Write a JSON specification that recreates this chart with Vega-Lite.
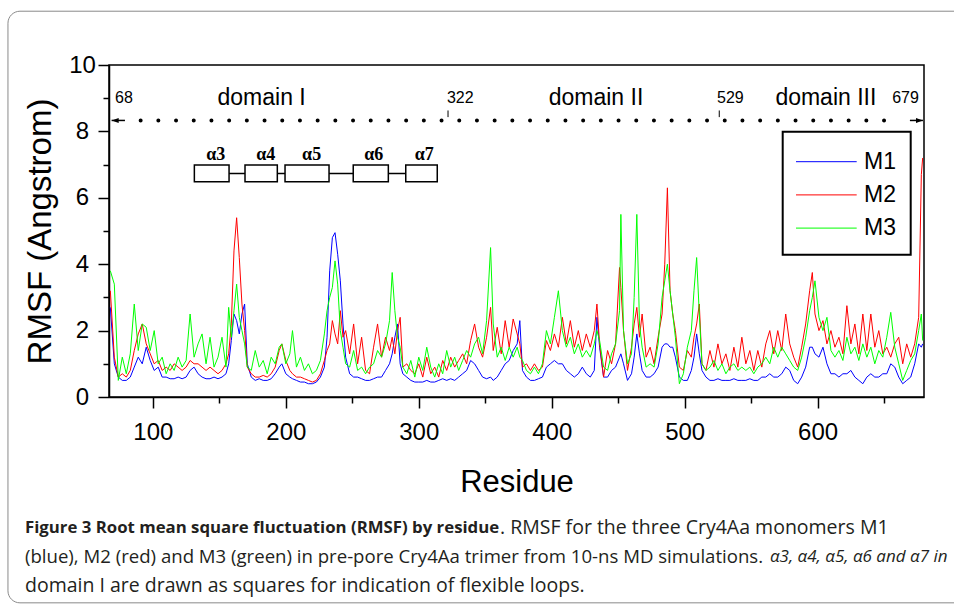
{
"$schema": "https://vega.github.io/schema/vega-lite/v6.json",
"width": 815, "height": 332,
"autosize": {"type": "none"},
"padding": {"left": 109, "top": 65, "right": 30, "bottom": 216},
"background": "white",
"config": {
  "view": {"stroke": "black", "strokeWidth": 1.5},
  "legend": {"strokeWidth": 2},
  "text": {"font": "Liberation Sans", "color": "black"}
},
"encoding": {
  "x": {"field": "r", "type": "quantitative", "scale": {"domain": [67, 680], "nice": false, "zero": false},
    "axis": {"title": "Residue", "values": [100,150,200,250,300,350,400,450,500,550,600,650],
      "labelExpr": "datum.value % 100 === 0 ? datum.label : ''",
      "tickDash": {"condition": {"test": "datum.value % 100 === 0", "value": [20, 0]}, "value": [6, 30]},
      "tickSize": 11, "tickWidth": 1.5, "tickColor": "black", "domainColor": "black", "domainWidth": 1.5,
      "grid": false, "labelFont": "Liberation Sans", "labelFontSize": 24, "labelColor": "black", "labelPadding": 12,
      "labelFlush": false, "labelOverlap": false,
      "titleFont": "Liberation Sans", "titleFontSize": 31, "titleFontWeight": "normal", "titleColor": "black", "titlePadding": 23}},
  "y": {"field": "rmsf", "type": "quantitative", "scale": {"domain": [0, 10], "nice": false, "zero": false},
    "axis": {"title": "RMSF (Angstrom)", "values": [0,1,2,3,4,5,6,7,8,9,10],
      "labelExpr": "datum.value % 2 === 0 ? datum.label : ''",
      "tickDash": {"condition": {"test": "datum.value % 2 === 0", "value": [20, 0]}, "value": [6, 30]},
      "tickSize": 11, "tickWidth": 1.5, "tickColor": "black", "domainColor": "black", "domainWidth": 1.5,
      "grid": false, "labelFont": "Liberation Sans", "labelFontSize": 24, "labelColor": "black", "labelPadding": 16,
      "labelAlign": "center", "labelFlush": false, "labelOverlap": false,
      "titleFont": "Liberation Sans", "titleFontSize": 33, "titleFontWeight": "normal", "titleColor": "black", "titlePadding": 11}}
},
"layer": [
{
  "data": {"values": [{"r": -9.0, "r2": 720, "rmsf": 11.62, "rmsf2": -6.2}]},
  "mark": {"type": "rect", "fill": "transparent", "stroke": "#8a8a8a", "strokeWidth": 1, "cornerRadius": 12},
  "encoding": {"x2": {"field": "r2"}, "y2": {"field": "rmsf2"}}
},
{
  "data": {"values": [
{"r":68,"M1":2.7,"M2":3.2,"M3":3.8},{"r":71,"M1":1.0,"M2":1.2,"M3":3.4},{"r":74,"M1":0.6,"M2":0.6,"M3":0.5},{"r":77,"M1":0.5,"M2":0.7,"M3":1.2},{"r":80,"M1":0.5,"M2":0.6,"M3":0.7},{"r":83,"M1":0.6,"M2":0.8,"M3":1.3},{"r":86,"M1":0.9,"M2":1.4,"M3":2.8},{"r":89,"M1":1.2,"M2":1.9,"M3":1.4},{"r":92,"M1":1.0,"M2":2.2,"M3":2.2},{"r":95,"M1":1.5,"M2":1.6,"M3":2.1},{"r":98,"M1":1.1,"M2":1.3,"M3":1.4},{"r":101,"M1":0.8,"M2":1.0,"M3":2.0},{"r":104,"M1":0.9,"M2":1.1,"M3":1.0},{"r":107,"M1":0.6,"M2":0.8,"M3":1.2},{"r":110,"M1":0.6,"M2":0.9,"M3":0.7},{"r":113,"M1":0.55,"M2":0.8,"M3":1.0},{"r":116,"M1":0.55,"M2":1.0,"M3":0.8},{"r":119,"M1":0.6,"M2":0.9,"M3":1.2},{"r":122,"M1":0.55,"M2":0.8,"M3":0.9},{"r":125,"M1":0.6,"M2":0.9,"M3":1.1},{"r":128,"M1":0.8,"M2":1.1,"M3":2.5},{"r":131,"M1":0.9,"M2":1.0,"M3":1.2},{"r":134,"M1":0.7,"M2":1.0,"M3":1.6},{"r":137,"M1":0.6,"M2":0.9,"M3":1.9},{"r":140,"M1":0.55,"M2":0.8,"M3":1.0},{"r":143,"M1":0.55,"M2":0.9,"M3":1.8},{"r":146,"M1":0.6,"M2":0.8,"M3":0.9},{"r":149,"M1":0.55,"M2":0.7,"M3":1.2},{"r":152,"M1":0.6,"M2":0.8,"M3":1.8},{"r":155,"M1":0.7,"M2":1.0,"M3":0.9},{"r":157,"M1":1.0,"M2":1.3,"M3":2.7},{"r":159,"M1":1.7,"M2":2.2,"M3":1.8},{"r":161,"M1":2.5,"M2":4.4,"M3":2.6},{"r":163,"M1":2.3,"M2":5.4,"M3":3.4},{"r":165,"M1":1.9,"M2":4.2,"M3":2.4},{"r":167,"M1":2.5,"M2":2.8,"M3":2.0},{"r":169,"M1":2.8,"M2":2.0,"M3":1.6},{"r":171,"M1":1.0,"M2":0.9,"M3":0.9},{"r":174,"M1":0.6,"M2":0.7,"M3":0.8},{"r":177,"M1":0.5,"M2":0.6,"M3":1.4},{"r":180,"M1":0.55,"M2":0.6,"M3":0.9},{"r":183,"M1":0.5,"M2":0.65,"M3":1.1},{"r":186,"M1":0.5,"M2":0.6,"M3":0.7},{"r":189,"M1":0.55,"M2":0.7,"M3":1.2},{"r":192,"M1":0.7,"M2":0.9,"M3":1.0},{"r":195,"M1":0.9,"M2":1.4,"M3":1.5},{"r":197,"M1":1.0,"M2":1.6,"M3":1.6},{"r":200,"M1":0.7,"M2":1.1,"M3":1.0},{"r":203,"M1":0.6,"M2":0.8,"M3":1.3},{"r":205,"M1":0.55,"M2":0.7,"M3":2.0},{"r":208,"M1":0.5,"M2":0.6,"M3":0.9},{"r":211,"M1":0.45,"M2":0.6,"M3":1.2},{"r":214,"M1":0.45,"M2":0.55,"M3":0.8},{"r":217,"M1":0.4,"M2":0.5,"M3":1.0},{"r":220,"M1":0.4,"M2":0.45,"M3":0.7},{"r":223,"M1":0.45,"M2":0.5,"M3":0.8},{"r":226,"M1":0.6,"M2":0.7,"M3":1.1},{"r":229,"M1":0.9,"M2":1.1,"M3":1.9},{"r":231,"M1":1.8,"M2":1.4,"M3":2.6},{"r":233,"M1":3.8,"M2":1.6,"M3":3.0},{"r":235,"M1":4.8,"M2":2.3,"M3":3.3},{"r":237,"M1":4.95,"M2":1.9,"M3":4.1},{"r":239,"M1":4.3,"M2":1.6,"M3":3.4},{"r":241,"M1":3.5,"M2":2.6,"M3":2.0},{"r":243,"M1":2.2,"M2":1.8,"M3":1.5},{"r":245,"M1":1.2,"M2":2.0,"M3":1.0},{"r":248,"M1":0.7,"M2":1.3,"M3":0.9},{"r":251,"M1":0.6,"M2":2.2,"M3":1.4},{"r":254,"M1":0.6,"M2":1.0,"M3":0.8},{"r":257,"M1":0.55,"M2":1.8,"M3":0.9},{"r":260,"M1":0.5,"M2":0.8,"M3":0.7},{"r":263,"M1":0.5,"M2":0.7,"M3":0.9},{"r":266,"M1":0.55,"M2":1.5,"M3":1.0},{"r":269,"M1":0.6,"M2":2.2,"M3":1.4},{"r":272,"M1":0.6,"M2":1.2,"M3":1.2},{"r":275,"M1":0.8,"M2":1.8,"M3":1.6},{"r":278,"M1":1.0,"M2":1.4,"M3":2.3},{"r":280,"M1":1.3,"M2":1.8,"M3":3.75},{"r":282,"M1":1.8,"M2":1.3,"M3":2.6},{"r":284,"M1":2.2,"M2":2.0,"M3":1.8},{"r":286,"M1":1.0,"M2":2.4,"M3":1.5},{"r":288,"M1":0.7,"M2":0.9,"M3":0.9},{"r":291,"M1":0.6,"M2":1.0,"M3":0.7},{"r":294,"M1":0.5,"M2":0.8,"M3":1.1},{"r":297,"M1":0.45,"M2":0.7,"M3":0.6},{"r":300,"M1":0.45,"M2":1.0,"M3":1.2},{"r":303,"M1":0.45,"M2":0.6,"M3":0.8},{"r":306,"M1":0.5,"M2":1.2,"M3":1.5},{"r":309,"M1":0.45,"M2":0.7,"M3":0.9},{"r":312,"M1":0.45,"M2":0.9,"M3":0.6},{"r":315,"M1":0.5,"M2":0.6,"M3":1.0},{"r":318,"M1":0.55,"M2":1.1,"M3":0.7},{"r":321,"M1":0.5,"M2":0.8,"M3":1.4},{"r":324,"M1":0.55,"M2":1.2,"M3":0.9},{"r":327,"M1":0.5,"M2":0.9,"M3":1.2},{"r":330,"M1":0.6,"M2":1.1,"M3":0.8},{"r":333,"M1":0.7,"M2":1.3,"M3":1.1},{"r":336,"M1":0.8,"M2":1.0,"M3":1.4},{"r":339,"M1":1.1,"M2":1.7,"M3":1.2},{"r":342,"M1":1.0,"M2":2.2,"M3":1.6},{"r":345,"M1":0.8,"M2":1.5,"M3":1.8},{"r":348,"M1":0.6,"M2":1.2,"M3":1.3},{"r":351,"M1":0.55,"M2":1.8,"M3":2.3},{"r":354,"M1":0.6,"M2":2.7,"M3":4.5},{"r":356,"M1":0.5,"M2":1.4,"M3":2.2},{"r":359,"M1":0.6,"M2":2.1,"M3":1.2},{"r":362,"M1":0.8,"M2":1.3,"M3":1.5},{"r":365,"M1":1.0,"M2":2.3,"M3":1.1},{"r":368,"M1":1.1,"M2":1.5,"M3":1.5},{"r":371,"M1":1.4,"M2":2.35,"M3":1.2},{"r":374,"M1":1.6,"M2":1.9,"M3":1.5},{"r":376,"M1":2.3,"M2":1.6,"M3":1.2},{"r":378,"M1":0.8,"M2":0.9,"M3":1.1},{"r":381,"M1":0.6,"M2":1.0,"M3":0.8},{"r":384,"M1":0.5,"M2":0.8,"M3":0.7},{"r":387,"M1":0.5,"M2":1.0,"M3":0.9},{"r":390,"M1":0.55,"M2":0.8,"M3":0.7},{"r":393,"M1":0.6,"M2":0.9,"M3":1.0},{"r":396,"M1":0.9,"M2":1.7,"M3":2.0},{"r":399,"M1":1.0,"M2":1.4,"M3":1.6},{"r":402,"M1":1.1,"M2":1.9,"M3":2.4},{"r":405,"M1":1.0,"M2":1.5,"M3":3.2},{"r":408,"M1":1.0,"M2":2.4,"M3":2.0},{"r":411,"M1":0.8,"M2":1.6,"M3":1.5},{"r":414,"M1":0.7,"M2":2.3,"M3":1.8},{"r":417,"M1":0.6,"M2":1.5,"M3":1.3},{"r":420,"M1":0.7,"M2":2.0,"M3":1.6},{"r":423,"M1":0.9,"M2":1.4,"M3":1.2},{"r":426,"M1":0.7,"M2":1.9,"M3":1.4},{"r":429,"M1":0.6,"M2":1.5,"M3":1.2},{"r":432,"M1":0.8,"M2":2.0,"M3":1.6},{"r":434,"M1":2.4,"M2":2.8,"M3":2.0},{"r":436,"M1":1.5,"M2":1.6,"M3":1.7},{"r":439,"M1":0.6,"M2":0.6,"M3":0.9},{"r":442,"M1":0.6,"M2":1.4,"M3":0.8},{"r":445,"M1":0.8,"M2":1.0,"M3":1.3},{"r":448,"M1":0.9,"M2":1.6,"M3":1.6},{"r":451,"M1":1.2,"M2":3.9,"M3":2.6},{"r":452,"M1":1.3,"M2":3.3,"M3":5.5},{"r":454,"M1":1.0,"M2":2.0,"M3":2.0},{"r":457,"M1":0.5,"M2":0.8,"M3":1.0},{"r":460,"M1":0.7,"M2":1.5,"M3":1.3},{"r":462,"M1":1.2,"M2":2.2,"M3":3.0},{"r":464,"M1":1.9,"M2":2.7,"M3":5.5},{"r":466,"M1":1.3,"M2":1.8,"M3":2.2},{"r":468,"M1":0.8,"M2":2.5,"M3":1.5},{"r":471,"M1":0.6,"M2":1.2,"M3":0.9},{"r":474,"M1":0.6,"M2":1.5,"M3":1.0},{"r":477,"M1":0.7,"M2":1.0,"M3":0.9},{"r":480,"M1":0.9,"M2":1.8,"M3":1.6},{"r":483,"M1":1.5,"M2":2.5,"M3":3.0},{"r":485,"M1":1.6,"M2":4.0,"M3":3.5},{"r":487,"M1":1.6,"M2":6.3,"M3":4.0},{"r":489,"M1":1.5,"M2":3.2,"M3":3.2},{"r":491,"M1":1.5,"M2":2.5,"M3":2.5},{"r":493,"M1":1.2,"M2":2.0,"M3":1.8},{"r":496,"M1":0.6,"M2":0.9,"M3":0.4},{"r":499,"M1":0.5,"M2":0.8,"M3":0.7},{"r":502,"M1":0.5,"M2":1.4,"M3":1.5},{"r":505,"M1":0.8,"M2":1.2,"M3":2.0},{"r":507,"M1":1.2,"M2":1.8,"M3":3.2},{"r":509,"M1":1.9,"M2":2.2,"M3":4.2},{"r":511,"M1":1.3,"M2":2.8,"M3":2.5},{"r":513,"M1":0.8,"M2":1.0,"M3":1.0},{"r":516,"M1":0.6,"M2":0.8,"M3":0.8},{"r":519,"M1":0.5,"M2":1.4,"M3":0.9},{"r":522,"M1":0.5,"M2":0.9,"M3":1.1},{"r":525,"M1":0.55,"M2":1.6,"M3":0.8},{"r":528,"M1":0.5,"M2":1.0,"M3":1.0},{"r":531,"M1":0.5,"M2":1.3,"M3":0.7},{"r":534,"M1":0.5,"M2":0.8,"M3":0.9},{"r":537,"M1":0.55,"M2":1.5,"M3":1.0},{"r":540,"M1":0.5,"M2":0.9,"M3":0.8},{"r":543,"M1":0.5,"M2":1.8,"M3":0.9},{"r":546,"M1":0.5,"M2":1.0,"M3":0.8},{"r":549,"M1":0.55,"M2":1.4,"M3":0.9},{"r":552,"M1":0.5,"M2":0.8,"M3":0.7},{"r":555,"M1":0.5,"M2":1.4,"M3":0.9},{"r":558,"M1":0.6,"M2":0.9,"M3":1.0},{"r":561,"M1":0.6,"M2":1.6,"M3":1.2},{"r":564,"M1":0.7,"M2":2.0,"M3":1.0},{"r":567,"M1":0.6,"M2":1.3,"M3":1.5},{"r":570,"M1":0.6,"M2":2.0,"M3":1.2},{"r":573,"M1":0.7,"M2":1.4,"M3":1.5},{"r":576,"M1":0.9,"M2":2.5,"M3":1.3},{"r":579,"M1":0.8,"M2":1.6,"M3":1.1},{"r":582,"M1":0.5,"M2":1.2,"M3":0.9},{"r":585,"M1":0.4,"M2":0.9,"M3":0.8},{"r":588,"M1":0.6,"M2":1.5,"M3":1.2},{"r":591,"M1":0.9,"M2":2.2,"M3":1.8},{"r":594,"M1":1.5,"M2":3.2,"M3":2.6},{"r":596,"M1":1.5,"M2":3.75,"M3":3.0},{"r":598,"M1":1.3,"M2":2.5,"M3":3.5},{"r":601,"M1":1.2,"M2":2.0,"M3":2.4},{"r":604,"M1":1.5,"M2":2.3,"M3":2.0},{"r":607,"M1":1.0,"M2":1.6,"M3":2.4},{"r":610,"M1":0.7,"M2":2.0,"M3":1.4},{"r":613,"M1":0.7,"M2":1.5,"M3":1.2},{"r":616,"M1":0.6,"M2":1.8,"M3":1.4},{"r":619,"M1":0.7,"M2":1.3,"M3":1.1},{"r":622,"M1":0.7,"M2":2.75,"M3":1.8},{"r":625,"M1":0.8,"M2":1.6,"M3":1.3},{"r":628,"M1":0.6,"M2":2.2,"M3":1.5},{"r":631,"M1":0.5,"M2":1.3,"M3":1.1},{"r":634,"M1":0.4,"M2":2.5,"M3":1.6},{"r":637,"M1":0.6,"M2":1.4,"M3":1.2},{"r":640,"M1":0.7,"M2":2.5,"M3":1.5},{"r":643,"M1":0.6,"M2":1.5,"M3":1.0},{"r":646,"M1":0.6,"M2":2.0,"M3":1.4},{"r":649,"M1":0.7,"M2":1.3,"M3":1.2},{"r":652,"M1":0.7,"M2":1.5,"M3":1.8},{"r":655,"M1":1.0,"M2":1.2,"M3":2.55},{"r":658,"M1":0.9,"M2":1.6,"M3":1.5},{"r":661,"M1":0.6,"M2":1.8,"M3":1.0},{"r":664,"M1":0.4,"M2":1.0,"M3":0.5},{"r":667,"M1":0.5,"M2":1.6,"M3":0.8},{"r":670,"M1":0.6,"M2":1.2,"M3":1.1},{"r":673,"M1":1.0,"M2":1.6,"M3":1.3},{"r":676,"M1":1.6,"M2":2.4,"M3":2.0},{"r":678,"M1":1.5,"M2":6.7,"M3":2.5},{"r":679,"M1":1.6,"M2":7.2,"M3":1.7}
  ]},
  "transform": [{"fold": ["M1", "M2", "M3"], "as": ["series", "rmsf"]}],
  "mark": {"type": "line", "strokeWidth": 1},
  "encoding": {
    "color": {"field": "series", "type": "nominal",
      "scale": {"domain": ["M1", "M2", "M3"], "range": ["#0000ff", "#ff0000", "#00ff00"]},
      "legend": {"orient": "none", "legendX": 673.7, "legendY": 66.7, "title": null,
        "strokeColor": "black", "fillColor": "white", "padding": 14, "rowPadding": 5.2,
        "symbolType": "M-1.958,0H1.958", "symbolSize": 961, "symbolStrokeWidth": 1,
        "symbolOffset": 13.65, "labelOffset": 21.65,
        "labelFont": "Liberation Sans", "labelFontSize": 23, "labelColor": "black"}}
  }
},
{
  "data": {"values": [{"r": 157, "r2": 290, "rmsf": 6.73}]},
  "mark": {"type": "rule", "color": "black", "strokeWidth": 1.5},
  "encoding": {"x2": {"field": "r2"}}
},
{
  "data": {"values": [
    {"helix": "α3", "r": 131.2, "r2": 157.3, "rmsf": 6.48, "rmsf2": 6.99},
    {"helix": "α4", "r": 169.3, "r2": 193.6, "rmsf": 6.48, "rmsf2": 6.99},
    {"helix": "α5", "r": 199.4, "r2": 232.5, "rmsf": 6.48, "rmsf2": 6.99},
    {"helix": "α6", "r": 250.7, "r2": 277.1, "rmsf": 6.48, "rmsf2": 6.99},
    {"helix": "α7", "r": 290.2, "r2": 313.9, "rmsf": 6.48, "rmsf2": 6.99}
  ]},
  "mark": {"type": "rect", "fill": "white", "stroke": "black", "strokeWidth": 1.5},
  "encoding": {"x2": {"field": "r2"}, "y2": {"field": "rmsf2"}}
},
{
  "data": {"values": [
    {"t": "α3", "r": 147.3, "rmsf": 7.3}, {"t": "α4", "r": 184.9, "rmsf": 7.3}, {"t": "α5", "r": 219.4, "rmsf": 7.3},
    {"t": "α6", "r": 266.1, "rmsf": 7.3}, {"t": "α7", "r": 304.1, "rmsf": 7.3}
  ]},
  "mark": {"type": "text", "font": "Liberation Serif", "fontSize": 18, "fontWeight": "bold", "align": "center", "baseline": "middle"},
  "encoding": {"text": {"field": "t"}}
},
{
  "data": {"values": [{"r": 90.8, "r2": 663.2, "rmsf": 8.33}]},
  "mark": {"type": "rule", "color": "black", "strokeWidth": 4, "strokeCap": "round", "strokeDash": [0, 17.7]},
  "encoding": {"x2": {"field": "r2"}}
},
{
  "data": {"values": [{"r": 68.96, "r2": 79, "rmsf": 8.33}, {"r": 669.4, "r2": 679.2, "rmsf": 8.33}]},
  "mark": {"type": "rule", "color": "black", "strokeWidth": 1.5},
  "encoding": {"x2": {"field": "r2"}}
},
{
  "data": {"values": [{"r": 71.66, "rmsf": 8.33, "dir": "left"}, {"r": 676.6, "rmsf": 8.33, "dir": "right"}]},
  "mark": {"type": "point", "filled": true, "color": "black", "opacity": 1, "size": 49},
  "encoding": {
    "shape": {"field": "dir", "type": "nominal", "scale": {"domain": ["left", "right"], "range": ["M-1,0L1,-0.7L1,0.7Z", "M1,0L-1,-0.7L-1,0.7Z"]}, "legend": null}
  }
},
{
  "data": {"values": [{"r": 322, "rmsf": 8.43, "rmsf2": 8.63}, {"r": 526, "rmsf": 8.43, "rmsf2": 8.63}]},
  "mark": {"type": "rule", "color": "black", "strokeWidth": 1},
  "encoding": {"y2": {"field": "rmsf2"}}
},
{
  "data": {"values": [
    {"t": "68", "r": 71.5, "rmsf": 9.0}, {"t": "322", "r": 321.2, "rmsf": 9.0},
    {"t": "529", "r": 524.3, "rmsf": 9.0}, {"t": "679", "r": 656.1, "rmsf": 9.0}
  ]},
  "mark": {"type": "text", "fontSize": 16, "align": "left", "baseline": "middle"},
  "encoding": {"text": {"field": "t"}}
},
{
  "data": {"values": [
    {"t": "domain I", "r": 181.8, "rmsf": 9.0}, {"t": "domain II", "r": 433.3, "rmsf": 9.0},
    {"t": "domain III", "r": 606.2, "rmsf": 9.0}
  ]},
  "mark": {"type": "text", "fontSize": 23, "align": "center", "baseline": "middle"},
  "encoding": {"text": {"field": "t"}}
},
{
  "data": {"values": [{"t": "Figure 3 Root mean square fluctuation (RMSF) by residue", "r": 3.8, "rmsf": -3.95}]},
  "mark": {"type": "text", "font": "Open Sans", "fontSize": 16.8, "fontWeight": "bold", "align": "left", "baseline": "middle", "color": "#231f20"},
  "encoding": {"text": {"field": "t"}}
},
{
  "data": {"values": [
    {"t": ". RMSF for the three Cry4Aa monomers M1", "r": 361.1, "rmsf": -3.95},
    {"t": "domain I are drawn as squares for indication of flexible loops.", "r": 3.8, "rmsf": -5.69}
  ]},
  "mark": {"type": "text", "font": "Open Sans", "fontSize": 19.5, "align": "left", "baseline": "middle", "color": "#231f20"},
  "encoding": {"text": {"field": "t"}}
},
{
  "data": {"values": [
    {"t": "(blue), M2 (red) and M3 (green) in pre-pore Cry4Aa trimer from 10-ns MD simulations.", "r": 3.8, "rmsf": -4.82}
  ]},
  "mark": {"type": "text", "font": "Open Sans", "fontSize": 18.6, "align": "left", "baseline": "middle", "color": "#231f20"},
  "encoding": {"text": {"field": "t"}}
},
{
  "data": {"values": [
    {"t": "α3, α4, α5, α6 and α7 in", "r": 564.1, "rmsf": -4.82}
  ]},
  "mark": {"type": "text", "font": "Open Sans", "fontSize": 17, "fontStyle": "italic", "align": "left", "baseline": "middle", "color": "#231f20"},
  "encoding": {"text": {"field": "t"}}
}
]
}
